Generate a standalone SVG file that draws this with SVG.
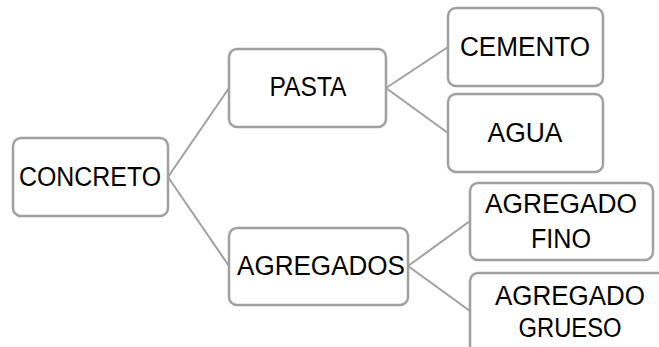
<svg xmlns="http://www.w3.org/2000/svg" width="659" height="347" viewBox="0 0 659 347">
<style>
.box{fill:#fff;stroke:#a0a0a0;stroke-width:2.5}
.ln{stroke:#a0a0a0;stroke-width:2;fill:none}
text{font-family:"Liberation Sans",Arial,sans-serif;font-size:27px;fill:#000;text-anchor:middle}
</style>
<rect width="659" height="347" fill="#fff"/>
<g id="connectors">
<line class="ln" x1="168" y1="177" x2="229" y2="88"/>
<line class="ln" x1="168" y1="177" x2="229" y2="266"/>
<line class="ln" x1="386" y1="88" x2="448" y2="47"/>
<line class="ln" x1="386" y1="88" x2="448" y2="133"/>
<line class="ln" x1="408" y1="266" x2="470" y2="221"/>
<line class="ln" x1="408" y1="266" x2="470" y2="311"/>
</g>
<g id="concreto">
<rect class="box" x="13" y="138" width="155" height="78" rx="8"/>
<text x="90" y="186" textLength="142" lengthAdjust="spacingAndGlyphs">CONCRETO</text>
</g>
<g id="pasta">
<rect class="box" x="229" y="49" width="157" height="78" rx="8"/>
<text x="308" y="96" textLength="77" lengthAdjust="spacingAndGlyphs">PASTA</text>
</g>
<g id="cemento">
<rect class="box" x="448" y="8" width="155" height="78" rx="8"/>
<text x="525" y="56" textLength="130" lengthAdjust="spacingAndGlyphs">CEMENTO</text>
</g>
<g id="agua">
<rect class="box" x="448" y="94" width="155" height="78" rx="8"/>
<text x="525" y="142" textLength="75" lengthAdjust="spacingAndGlyphs">AGUA</text>
</g>
<g id="agregados">
<rect class="box" x="229" y="228" width="179" height="77" rx="8"/>
<text x="321" y="275" textLength="168" lengthAdjust="spacingAndGlyphs">AGREGADOS</text>
</g>
<g id="agregado-fino">
<rect class="box" x="470" y="183" width="183" height="77" rx="8"/>
<text x="561" y="213" textLength="152" lengthAdjust="spacingAndGlyphs">AGREGADO</text>
<text x="561" y="248" textLength="60" lengthAdjust="spacingAndGlyphs">FINO</text>
</g>
<g id="agregado-grueso">
<rect class="box" x="470" y="273" width="196" height="80" rx="8"/>
<text x="570" y="305" textLength="150" lengthAdjust="spacingAndGlyphs">AGREGADO</text>
<text x="570" y="337" textLength="103" lengthAdjust="spacingAndGlyphs">GRUESO</text>
</g>
</svg>
